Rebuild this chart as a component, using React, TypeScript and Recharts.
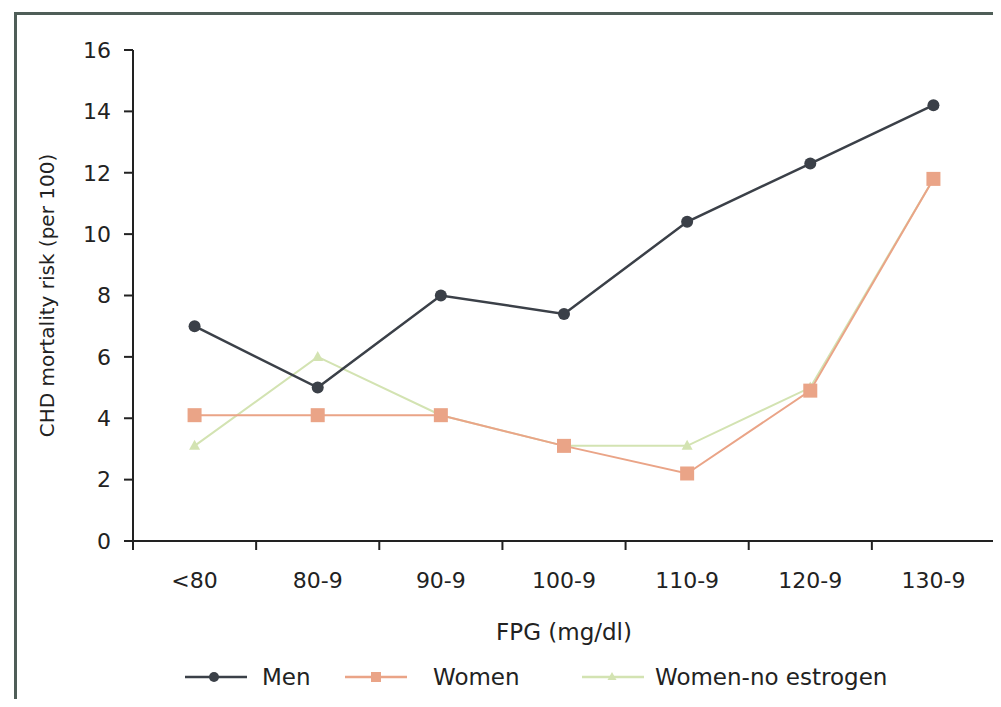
import { Line, LineChart, XAxis, YAxis } from "recharts"

const categories = ["<80", "80-9", "90-9", "100-9", "110-9", "120-9", "130-9"]
const men = [7.0, 5.0, 8.0, 7.4, 10.4, 12.3, 14.2]
const women = [4.1, 4.1, 4.1, 3.1, 2.2, 4.9, 11.8]
const womenNoEstrogen = [3.1, 6.0, 4.1, 3.1, 3.1, 5.0, 11.8]
const yTicks = [0, 2, 4, 6, 8, 10, 12, 14, 16]

// categories sit in the middle of each band; ticks mark the band edges
const data = categories.map((fpg, i) => ({
  fpg,
  pos: i + 0.5,
  men: men[i],
  women: women[i],
  noEstrogen: womenNoEstrogen[i],
}))
const xTicks: number[] = []
for (let i = 0; i <= categories.length * 2; i += 1) xTicks.push(i / 2)

const FONT = "'DejaVu Sans', sans-serif"
const INK = "#222"
const MEN = "#3b4048"
const WOMEN = "#eaa487"
const NO_EST = "#d3e3b2"

function FpgTick(props: any) {
  const { x, y, payload } = props
  const v = payload.value as number
  if (Number.isInteger(v)) {
    return <line x1={x} x2={x} y1={y} y2={y + 9} stroke={INK} strokeWidth={2} />
  }
  return (
    <text x={x} y={y + 39} dy="0.355em" textAnchor="middle" fontSize={22} fontFamily={FONT} fill={INK}>
      {categories[Math.floor(v)]}
    </text>
  )
}

function SquareDot(props: any) {
  const { cx, cy, index } = props
  if (cx == null || cy == null) return null
  return <rect key={`sq-${index}`} x={cx - 7} y={cy - 7} width={14} height={14} fill={WOMEN} />
}

function TriDot(props: any) {
  const { cx, cy, index } = props
  if (cx == null || cy == null) return null
  return (
    <path
      key={`tri-${index}`}
      d={`M${cx},${cy - 6} L${cx + 5.5},${cy + 4} L${cx - 5.5},${cy + 4} Z`}
      fill={NO_EST}
    />
  )
}

type LegendProps = {
  color: string
  label: string
  marker: "circle" | "square" | "tri"
  left: number
  textLeft: number
}

function LegendItem({ color, label, marker, left, textLeft }: LegendProps) {
  return (
    <>
      <svg width={62} height={20} style={{ position: "absolute", left, top: 667 }}>
        <line x1={0} x2={62} y1={10} y2={10} stroke={color} strokeWidth={2.5} />
        {marker === "circle" && <circle cx={29} cy={10} r={5} fill={color} />}
        {marker === "square" && <rect x={26} y={5} width={10} height={10} fill={color} />}
        {marker === "tri" && <path d="M30,5 L34.5,13 L25.5,13 Z" fill={color} />}
      </svg>
      <span
        style={{
          position: "absolute",
          left: textLeft,
          top: 677,
          transform: "translateY(-50%)",
          fontFamily: FONT,
          fontSize: 23,
          color: INK,
          whiteSpace: "nowrap",
        }}
      >
        {label}
      </span>
    </>
  )
}

export default function App() {
  return (
    <div style={{ position: "relative", width: 1001, height: 707, margin: -8, overflow: "hidden", background: "#fff" }}>
      <div
        style={{
          position: "absolute",
          left: 14,
          top: 12,
          width: 1000,
          height: 692,
          border: "3px solid #4f5e58",
          boxSizing: "border-box",
        }}
      />
      <div style={{ position: "absolute", left: 0, top: 0 }}>
        <LineChart width={1001} height={707} data={data} margin={{ top: 50, right: 6, left: 73, bottom: 106 }}>
          <XAxis
            dataKey="pos"
            type="number"
            domain={[0, 7]}
            ticks={xTicks}
            interval={0}
            height={60}
            tickLine={false}
            tickSize={0}
            tickMargin={0}
            tick={<FpgTick />}
            axisLine={{ stroke: INK, strokeWidth: 2 }}
            label={{
              content: (p: any) => {
                const vb = p.viewBox
                return (
                  <text
                    x={vb.x + vb.width / 2}
                    y={vb.y + 91}
                    dy="0.355em"
                    textAnchor="middle"
                    fontSize={23}
                    fontFamily={FONT}
                    fill={INK}
                  >
                    FPG (mg/dl)
                  </text>
                )
              },
            }}
          />
          <YAxis
            type="number"
            domain={[0, 16]}
            ticks={yTicks}
            interval={0}
            width={60}
            tickSize={9}
            tickMargin={13}
            tick={{ fontSize: 22, fontFamily: FONT, fill: INK }}
            tickLine={{ stroke: INK, strokeWidth: 2 }}
            axisLine={{ stroke: INK, strokeWidth: 2 }}
            label={{
              content: (p: any) => {
                const vb = p.viewBox
                const cx = 47
                const cy = vb.y + vb.height / 2
                return (
                  <text
                    x={cx}
                    y={cy}
                    dy="0.355em"
                    textAnchor="middle"
                    transform={`rotate(-90 ${cx} ${cy})`}
                    fontSize={20}
                    fontFamily={FONT}
                    fill={INK}
                  >
                    CHD mortality risk (per 100)
                  </text>
                )
              },
            }}
          />
          <Line
            dataKey="noEstrogen"
            stroke={NO_EST}
            strokeWidth={2}
            dot={<TriDot />}
            activeDot={false}
            isAnimationActive={false}
          />
          <Line
            dataKey="women"
            stroke={WOMEN}
            strokeWidth={2}
            dot={<SquareDot />}
            activeDot={false}
            isAnimationActive={false}
          />
          <Line
            dataKey="men"
            stroke={MEN}
            strokeWidth={2.5}
            dot={{ r: 6, fill: MEN, stroke: MEN, strokeWidth: 0 }}
            activeDot={false}
            isAnimationActive={false}
          />
        </LineChart>
      </div>
      <LegendItem color={MEN} label="Men" marker="circle" left={185} textLeft={262} />
      <LegendItem color={WOMEN} label="Women" marker="square" left={345} textLeft={433} />
      <LegendItem color={NO_EST} label="Women-no estrogen" marker="tri" left={582} textLeft={655} />
    </div>
  )
}
